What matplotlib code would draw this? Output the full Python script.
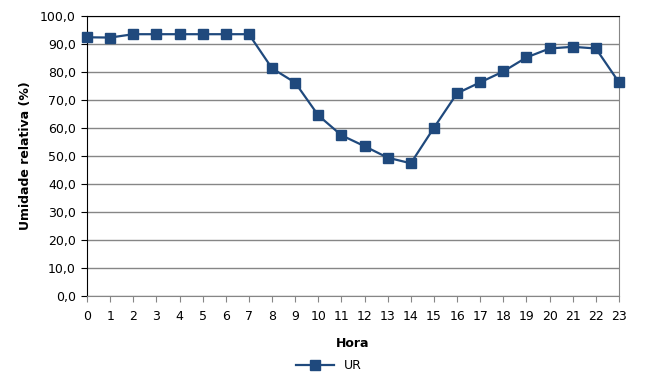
import numpy as np
import matplotlib.pyplot as plt

# Dados
horas = list(range(24))
ur = [92.4, 92.3, 93.5, 93.5, 93.5, 93.5, 93.5, 93.5, 81.3, 76.2, 64.5, 57.4,
      53.5, 49.4, 47.4, 60.1, 72.4, 76.3, 80.2, 85.2, 88.4, 89.0, 88.4, 76.3]
yticks = np.arange(0, 101, 10)

cor = '#1F497D'

fig = plt.figure(figsize=(6.58, 3.87), dpi=100)
ax = fig.add_axes([87/658, 1 - 296/387, (619 - 87)/658, (296 - 16)/387])

ax.plot(horas, ur, color=cor, lw=1.6, marker='s', ms=6.5, label='UR', clip_on=False, zorder=3)

ax.set_xlim(0, 23)
ax.set_ylim(0, 100)
ax.set_xticks(horas)
ax.set_yticks(yticks)
ax.set_yticklabels([('%.1f' % v).replace('.', ',') for v in yticks])
ax.grid(axis='y', color='#868686', lw=1)
ax.set_axisbelow(True)

ax.spines['left'].set_color('black')
ax.spines['top'].set_color('black')
ax.spines['right'].set_color('#868686')
ax.spines['bottom'].set_color('#868686')
ax.tick_params(axis='x', length=4, color='#868686', labelsize=9, pad=6)
ax.tick_params(axis='y', length=4, color='black', labelsize=9, pad=4)

ax.set_xlabel('Hora', fontsize=9, fontweight='bold', labelpad=10)
ax.set_ylabel('Umidade relativa (%)', fontsize=9, fontweight='bold', labelpad=6)

ax.legend(loc='upper center', bbox_to_anchor=(0.455, -0.185), frameon=False,
          fontsize=9, handlelength=3)

fig.savefig('out.png', dpi=100)
